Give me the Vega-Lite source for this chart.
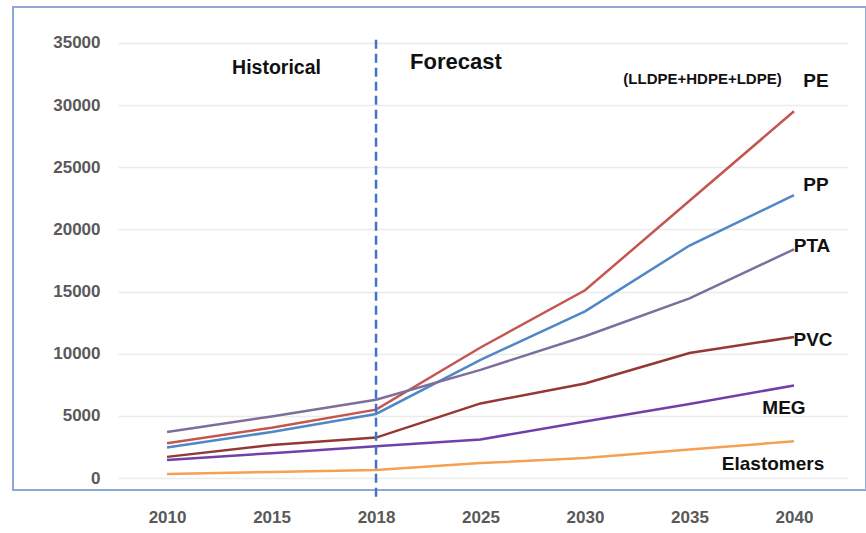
{
  "$schema": "https://vega.github.io/schema/vega-lite/v6.json",
  "autosize": {"type": "none"},
  "padding": {"left": 13, "top": 7, "right": 0, "bottom": 43},
  "width": 853,
  "height": 483,
  "background": "white",
  "config": {
    "view": {"stroke": "#8EA9D8", "strokeWidth": 2},
    "font": "Liberation Sans, Arial, sans-serif",
    "text": {"font": "Liberation Sans, Arial, sans-serif", "fontWeight": "bold", "color": "#111111"}
  },
  "data": {"values": [{}]},
  "datasets": {
    "demand": [
      {"series": "PE", "year": "2010", "value": 2800},
      {"series": "PE", "year": "2015", "value": 4050},
      {"series": "PE", "year": "2018", "value": 5500},
      {"series": "PE", "year": "2025", "value": 10500},
      {"series": "PE", "year": "2030", "value": 15100},
      {"series": "PE", "year": "2035", "value": 22300},
      {"series": "PE", "year": "2040", "value": 29500},
      {"series": "PP", "year": "2010", "value": 2450},
      {"series": "PP", "year": "2015", "value": 3700},
      {"series": "PP", "year": "2018", "value": 5150},
      {"series": "PP", "year": "2025", "value": 9500},
      {"series": "PP", "year": "2030", "value": 13400},
      {"series": "PP", "year": "2035", "value": 18700},
      {"series": "PP", "year": "2040", "value": 22750},
      {"series": "PTA", "year": "2010", "value": 3700},
      {"series": "PTA", "year": "2015", "value": 4950},
      {"series": "PTA", "year": "2018", "value": 6300},
      {"series": "PTA", "year": "2025", "value": 8700},
      {"series": "PTA", "year": "2030", "value": 11400},
      {"series": "PTA", "year": "2035", "value": 14450},
      {"series": "PTA", "year": "2040", "value": 18400},
      {"series": "PVC", "year": "2010", "value": 1700},
      {"series": "PVC", "year": "2015", "value": 2650},
      {"series": "PVC", "year": "2018", "value": 3250},
      {"series": "PVC", "year": "2025", "value": 6000},
      {"series": "PVC", "year": "2030", "value": 7600},
      {"series": "PVC", "year": "2035", "value": 10050},
      {"series": "PVC", "year": "2040", "value": 11350},
      {"series": "MEG", "year": "2010", "value": 1450},
      {"series": "MEG", "year": "2015", "value": 2000},
      {"series": "MEG", "year": "2018", "value": 2550},
      {"series": "MEG", "year": "2025", "value": 3100},
      {"series": "MEG", "year": "2030", "value": 4550},
      {"series": "MEG", "year": "2035", "value": 5950},
      {"series": "MEG", "year": "2040", "value": 7450},
      {"series": "Elastomers", "year": "2010", "value": 330},
      {"series": "Elastomers", "year": "2015", "value": 480},
      {"series": "Elastomers", "year": "2018", "value": 650},
      {"series": "Elastomers", "year": "2025", "value": 1200},
      {"series": "Elastomers", "year": "2030", "value": 1600},
      {"series": "Elastomers", "year": "2035", "value": 2300},
      {"series": "Elastomers", "year": "2040", "value": 2950}
    ]
  },
  "layer": [
    {
      "data": {"name": "demand"},
      "mark": {"type": "line", "strokeWidth": 2.5},
      "encoding": {
        "x": {
          "field": "year",
          "type": "ordinal",
          "scale": {"type": "point", "padding": 0.493, "align": 0.476, "range": [105, 835]},
          "axis": {
            "title": null,
            "domain": false,
            "ticks": false,
            "grid": false,
            "labelAngle": 0,
            "labelPadding": 19,
            "labelFontSize": 17,
            "labelFontWeight": "bold",
            "labelColor": "#595959",
            "labelFont": "Liberation Sans, Arial, sans-serif"
          }
        },
        "y": {
          "field": "value",
          "type": "quantitative",
          "scale": {"domain": [-965, 37890], "nice": false, "zero": false},
          "axis": {
            "title": null,
            "domain": false,
            "ticks": false,
            "grid": true,
            "gridColor": "#ebebeb",
            "gridWidth": 1.5,
            "values": [0, 5000, 10000, 15000, 20000, 25000, 30000, 35000],
            "format": "d",
            "labelPadding": -87,
            "labelFontSize": 17,
            "labelFontWeight": "bold",
            "labelColor": "#595959",
            "labelFont": "Liberation Sans, Arial, sans-serif"
          }
        },
        "color": {
          "field": "series",
          "type": "nominal",
          "scale": {
            "domain": ["PE", "PP", "PTA", "PVC", "MEG", "Elastomers"],
            "range": ["#C5564F", "#5087C6", "#7E6E9E", "#953735", "#7040A8", "#F4A154"]
          },
          "legend": null
        }
      }
    },
    {
      "mark": {"type": "rule", "strokeDash": [9, 5], "strokeWidth": 2.5, "color": "#4472C4", "clip": false},
      "encoding": {
        "x": {"datum": "2018"},
        "y": {"datum": 35250},
        "y2": {"datum": -1530}
      }
    },
    {
      "mark": {"type": "text", "fontSize": 19.5, "align": "center", "baseline": "middle", "dx": 5},
      "encoding": {"x": {"datum": "2015"}, "y": {"datum": 32980}, "text": {"value": "Historical"}}
    },
    {
      "mark": {"type": "text", "fontSize": 22, "align": "left", "baseline": "middle", "dx": 34},
      "encoding": {"x": {"datum": "2018"}, "y": {"datum": 33465}, "text": {"value": "Forecast"}}
    },
    {
      "mark": {"type": "text", "fontSize": 15, "align": "center", "baseline": "middle", "dx": 13},
      "encoding": {"x": {"datum": "2035"}, "y": {"datum": 32100}, "text": {"value": "(LLDPE+HDPE+LDPE)"}}
    },
    {
      "mark": {"type": "text", "fontSize": 19, "align": "center", "baseline": "middle", "dx": 22},
      "encoding": {"x": {"datum": "2040"}, "y": {"datum": 31960}, "text": {"value": "PE"}}
    },
    {
      "mark": {"type": "text", "fontSize": 19, "align": "center", "baseline": "middle", "dx": 22},
      "encoding": {"x": {"datum": "2040"}, "y": {"datum": 23570}, "text": {"value": "PP"}}
    },
    {
      "mark": {"type": "text", "fontSize": 19, "align": "center", "baseline": "middle", "dx": 18},
      "encoding": {"x": {"datum": "2040"}, "y": {"datum": 18660}, "text": {"value": "PTA"}}
    },
    {
      "mark": {"type": "text", "fontSize": 19, "align": "center", "baseline": "middle", "dx": 19},
      "encoding": {"x": {"datum": "2040"}, "y": {"datum": 11100}, "text": {"value": "PVC"}}
    },
    {
      "mark": {"type": "text", "fontSize": 19, "align": "center", "baseline": "middle", "dx": -10},
      "encoding": {"x": {"datum": "2040"}, "y": {"datum": 5630}, "text": {"value": "MEG"}}
    },
    {
      "mark": {"type": "text", "fontSize": 19, "align": "center", "baseline": "middle", "dx": -21},
      "encoding": {"x": {"datum": "2040"}, "y": {"datum": 1130}, "text": {"value": "Elastomers"}}
    }
  ]
}
